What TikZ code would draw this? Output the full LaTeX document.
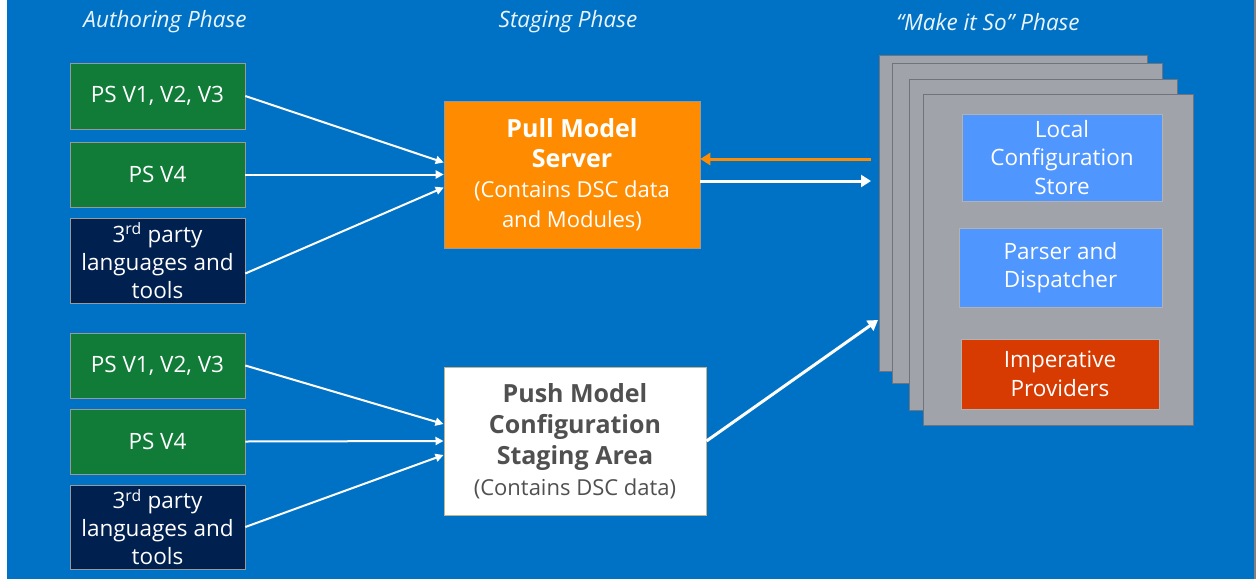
\documentclass[tikz,border=0pt]{standalone}
\usepackage{fontspec}
\setmainfont{Open Sans}
\usetikzlibrary{arrows.meta}
\definecolor{bgblue}{RGB}{0,114,198}
\definecolor{psgreen}{RGB}{16,124,55}
\definecolor{navy}{RGB}{0,32,80}
\definecolor{pullorange}{RGB}{255,140,0}
\definecolor{pagegray}{RGB}{160,163,170}
\definecolor{pageedge}{RGB}{110,115,125}
\definecolor{lightblue}{RGB}{80,150,255}
\definecolor{impred}{RGB}{216,59,1}
\definecolor{pushtext}{RGB}{80,80,80}
\definecolor{pushedge}{RGB}{200,180,140}
\tikzset{
  srcbox/.style={draw=black!40, line width=0.6pt, text=white, align=center, font=\fontsize{22.5}{28}\selectfont, inner sep=0pt},
  heading/.style={text=white!92!bgblue, font=\itshape\fontsize{22.5}{26}\selectfont},
  flow/.style={draw=white, line width=2pt, -{Triangle[length=8pt,width=8pt]}},
  bigflow/.style={line width=3pt, -{Triangle[length=10pt,width=12pt]}},
  page/.style={draw=pageedge, fill=pagegray, line width=1pt},
  inner/.style={draw=black!30, line width=0.6pt, text=white, align=center, font=\fontsize{22.5}{28.5}\selectfont, inner sep=0pt}
}
\begin{document}
\begin{tikzpicture}[x=1pt,y=-1pt]
\useasboundingbox (0,0) rectangle (1256,579);
\fill[white] (0,0) rectangle (7,579);
\fill[bgblue] (7,0) rectangle (1254,579);
\fill[gray] (1254,0) rectangle (1256,579);

% headings
\node[heading] (h1) at (165,22) {Authoring Phase};
\node[heading] (h2) at (568,22) {Staging Phase};
\node[heading] (h3) at (988,22) {“Make it So” Phase};

% top group
\node[srcbox, fill=psgreen, minimum width=175pt, minimum height=66pt] (a1) at (157.5,96) {PS V1, V2, V3};
\node[srcbox, fill=psgreen, minimum width=175pt, minimum height=65pt] (a2) at (157.5,174.5) {PS V4};
\node[srcbox, fill=navy, minimum width=175pt, minimum height=85pt] (a3) at (157.5,260.5) {3\textsuperscript{rd} party\\languages and\\tools};

% bottom group
\node[srcbox, fill=psgreen, minimum width=175pt, minimum height=65pt] (b1) at (157.5,365.5) {PS V1, V2, V3};
\node[srcbox, fill=psgreen, minimum width=175pt, minimum height=65pt] (b2) at (157.5,441.5) {PS V4};
\node[srcbox, fill=navy, minimum width=175pt, minimum height=84pt] (b3) at (157.5,527) {3\textsuperscript{rd} party\\languages and\\tools};

% pull server
\node[draw=black!40, line width=0.6pt, fill=pullorange, text=white, align=center, minimum width=256pt, minimum height=147pt, inner sep=0pt, font=\fontsize{22}{30}\selectfont] (pull) at (572,174.5)
  {{\bfseries\fontsize{25}{30}\selectfont Pull Model}\\{\bfseries\fontsize{25}{30}\selectfont Server}\\(Contains DSC data\\and Modules)};

% push area
\node[draw=pushedge, line width=1pt, fill=white, text=pushtext, align=center, minimum width=262pt, minimum height=148pt, inner sep=0pt, font=\fontsize{22}{31}\selectfont] (push) at (575,441)
  {{\bfseries\fontsize{25}{31}\selectfont Push Model}\\{\bfseries\fontsize{25}{31}\selectfont Configuration}\\{\bfseries\fontsize{25}{31}\selectfont Staging Area}\\(Contains DSC data)};

% page stack
\draw[page] (879,55) rectangle (1147,371);
\draw[page] (892,63) rectangle (1162,383);
\draw[page] (909,79) rectangle (1177,410);
\draw[page] (923,94) rectangle (1193,425);
\coordinate (stackL1) at (871,159);
\coordinate (stackL2) at (871,181);
\coordinate (stackL3) at (878,320);

\node[inner, fill=lightblue, minimum width=200pt, minimum height=87pt] (lcs) at (1062,157.5) {Local\\Configuration\\Store};
\node[inner, fill=lightblue, minimum width=203pt, minimum height=79pt] (pd) at (1060.5,267.5) {Parser and\\Dispatcher};
\node[inner, fill=impred, minimum width=198pt, minimum height=70pt] (ip) at (1060,374) {Imperative\\Providers};

% arrows top
\draw[flow] (a1.east) -- ([yshift=12pt]pull.west);
\draw[flow] (a2.east) -- (pull.west);
\draw[flow] ([yshift=-13pt]a3.east) -- ([yshift=-13pt]pull.west);
% arrows bottom
\draw[flow] (b1.east) -- ([yshift=17pt]push.west);
\draw[flow] (b2.east) -- (push.west);
\draw[flow] (b3.east) -- ([yshift=-14pt]push.west);

\draw[bigflow, draw=pullorange] (stackL1) -- (pull.east |- stackL1);
\draw[bigflow, draw=white] (pull.east |- stackL2) -- (stackL2);
\draw[bigflow, draw=white] (push.east) -- (stackL3);
\end{tikzpicture}
\end{document}
